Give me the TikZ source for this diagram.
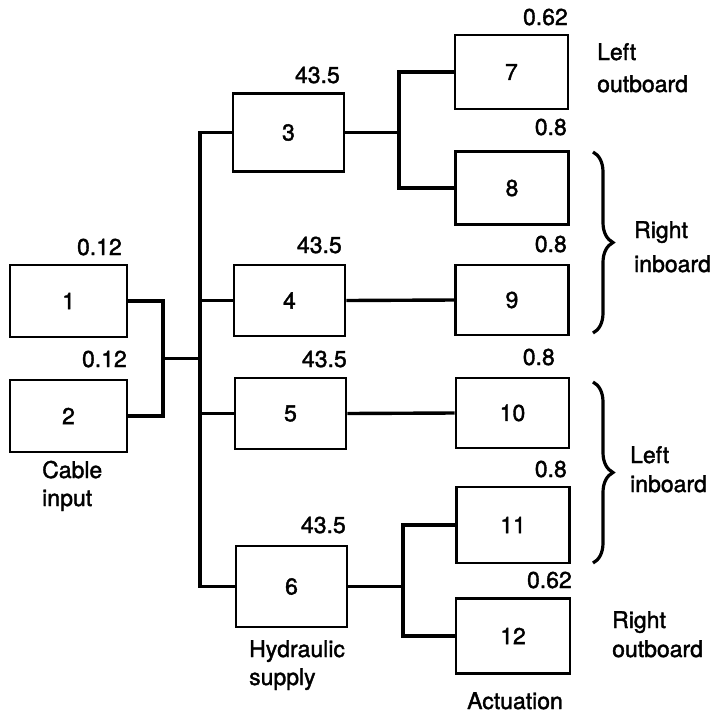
\documentclass[tikz,border=0pt]{standalone}
\usepackage{fontspec}
\setmainfont{TeX Gyre Heros}
\newfontfamily\medfont[FakeBold=1.6]{TeX Gyre Heros}
\usetikzlibrary{calc,decorations.pathreplacing}
\begin{document}
\begin{tikzpicture}[x=1pt,y=-1pt,
  box/.style={draw,line width=2.8pt,inner sep=0pt,font=\medfont\fontsize{23}{28}\selectfont},
  wire/.style={line width=3.4pt},
  val/.style={anchor=base east,inner sep=0pt,font=\medfont\fontsize{23}{28}\selectfont},
  lbl/.style={anchor=base west,inner sep=0pt,align=left,font=\medfont\fontsize{23}{28}\selectfont},
  brc/.style={decorate,decoration={brace,amplitude=20pt},line width=3.2pt}]
\useasboundingbox (0,0) rectangle (716,716);
% boxes
\node[box,minimum width=117pt,minimum height=72pt] (b1) at (68.5,301) {1};
\node[box,minimum width=117pt,minimum height=72pt] (b2) at (68.5,416) {2};
\node[box,minimum width=111pt,minimum height=78pt] (b3) at (288.5,132.5) {3};
\node[box,minimum width=111pt,minimum height=71pt] (b4) at (289.5,300.5) {4};
\node[box,minimum width=111pt,minimum height=71pt] (b5) at (290.5,413.5) {5};
\node[box,minimum width=111pt,minimum height=81pt] (b6) at (291.5,586.5) {6};
\node[box,minimum width=113pt,minimum height=74pt] (b7) at (511.5,72) {7};
\node[box,minimum width=113pt,minimum height=73pt] (b8) at (512,188) {8};
\node[box,minimum width=113pt,minimum height=70pt] (b9) at (512,300) {9};
\node[box,minimum width=113pt,minimum height=70pt] (b10) at (512.5,413) {10};
\node[box,minimum width=113pt,minimum height=76pt] (b11) at (513,525) {11};
\node[box,minimum width=114pt,minimum height=75pt] (b12) at (513,636) {12};
% values
\node[val] (v1) at (122,255) {0.12};
\node[val] (v2) at (127,367) {0.12};
\node[val] (v3) at (340,83) {43.5};
\node[val] (v4) at (342,253) {43.5};
\node[val] (v5) at (347,367) {43.5};
\node[val] (v6) at (346,533) {43.5};
\node[val] (v7) at (568,25) {0.62};
\node[val] (v8) at (567,135) {0.8};
\node[val] (v9) at (567,252) {0.8};
\node[val] (v10) at (555,365) {0.8};
\node[val] (v11) at (567,477) {0.8};
\node[val] (v12) at (572,588) {0.62};
% junction coordinates
\coordinate (c) at (163,0);
\coordinate (m) at (200,0);
\coordinate (j3) at (399,0);
\coordinate (j6) at (403,0);
% connectors
\draw[wire] (b1.east) -| (c |- b2.east) -- (b2.east);
\draw[wire] ($(c |- b1.east)!0.5!(c |- b2.east)$) -- ($(m |- b1.east)!0.5!(m |- b2.east)$);
\draw[wire] (b3.west) -| (m |- b6.west) -- (b6.west);
\draw[wire] (b4.west) -- (m |- b4.west);
\draw[wire] (b5.west) -- (m |- b5.west);
\draw[wire] (b3.east) -- (j3 |- b3.east);
\draw[wire] (b7.west) -| (j3 |- b8.west) -- (b8.west);
\draw[wire] (b4.east) -- (b9.west);
\draw[wire] (b5.east) -- (b10.west);
\draw[wire] (b6.east) -- (j6 |- b6.east);
\draw[wire] (b11.west) -| (j6 |- b12.west) -- (b12.west);
% braces
\draw[brc] (593,152) -- (593,333);
\draw[brc] (593,382) -- (593,563);
% text labels (anchored at the baseline of the last line)
\node[lbl] (t1) at (42,506) {Cable\\input};
\node[lbl] (t2) at (249,685) {Hydraulic\\supply};
\node[lbl] (t3) at (597,92) {Left\\[4pt]outboard};
\node[lbl] (t4) at (634,272) {Right\\[6pt]inboard};
\node[lbl] (t5) at (630,492) {Left\\[1pt]inboard};
\node[lbl] (t6) at (612,657) {Right\\[1pt]outboard};
\node[val,anchor=base] (t7) at (515,709) {Actuation};
\end{tikzpicture}
\end{document}
